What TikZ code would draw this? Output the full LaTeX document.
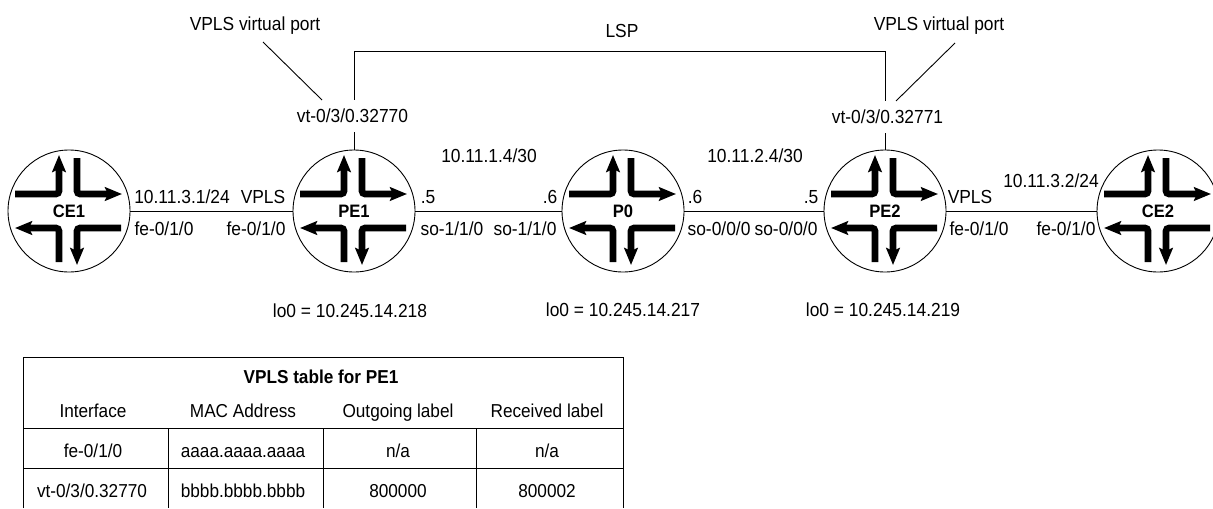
\documentclass[tikz,border=0pt]{standalone}
\usepackage{fontspec}
\setmainfont[FakeStretch=0.92]{Liberation Sans}
\usetikzlibrary{arrows.meta}
\tikzset{
	router/.style={circle, draw, line width=0.45pt, minimum size=61pt, inner sep=0pt, font=\fontsize{9}{10}\selectfont\bfseries},
	flow/.style={line width=3.3pt, rounded corners=1.5pt, -{Stealth[length=8.5pt, width=6.8pt, inset=1.5pt]}},
	wire/.style={line width=0.45pt},
	txt/.style={font=\fontsize{9.45}{10}\selectfont, inner sep=0pt, text height=6.8pt, text depth=0pt},
	port/.style={txt, minimum height=16pt},
	cell/.style={font=\fontsize{9.35}{10}\selectfont, inner sep=0pt, text height=6.8pt, text depth=0pt},
	headcell/.style={cell, font=\fontsize{9.35}{10}\selectfont\bfseries},
}
\newcommand{\routerarrows}[1]{
	\begin{scope}[shift={(#1.center)}]
		\draw[flow] (-54, -17) -- (-10, -17) -- (-10, -56);
		\draw[flow] (8, -53) -- (8, -17) -- (53, -17);
		\draw[flow] (52, 17) -- (8, 17) -- (8, 54);
		\draw[flow] (-10, 51) -- (-10, 17) -- (-54, 17);
	\end{scope}
}
\begin{document}
\begin{tikzpicture}[x=0.5pt, y=-0.5pt]
	\useasboundingbox (0, 0) rectangle (1213, 508);
	% Routers
	\node[router] (ce1) at (69, 211) {CE1};
	\node[router] (pe1) at (354, 211) {PE1};
	\node[router] (p0) at (623, 211) {P0};
	\node[router] (pe2) at (885, 211) {PE2};
	\node[router] (ce2) at (1158, 211) {CE2};
	\routerarrows{ce1}
	\routerarrows{pe1}
	\routerarrows{p0}
	\routerarrows{pe2}
	\routerarrows{ce2}
	% Links
	\draw[wire] (ce1) -- (pe1);
	\draw[wire] (pe1) -- (p0);
	\draw[wire] (p0) -- (pe2);
	\draw[wire] (pe2) -- (ce2);
	% LSP
	\node[port] (port1) at (352.5, 116) {vt-0/3/0.32770};
	\node[port] (port2) at (887.5, 117) {vt-0/3/0.32771};
	\coordinate (lsp1) at (354, 51);
	\coordinate (lsp2) at (885, 51);
	\draw[wire] (port1.north -| lsp1) -- (lsp1) -- (lsp2) -- (port2.north -| lsp2);
	\draw[wire] (port1.south -| lsp1) -- (pe1);
	\draw[wire] (port2.south -| lsp2) -- (pe2);
	\node[txt] (lsp) at (622, 31) {LSP};
	% Virtual ports
	\node[txt] (vport1) at (255, 24) {VPLS virtual port};
	\node[txt] (vport2) at (939, 24) {VPLS virtual port};
	\coordinate (vport1a) at (263, 42);
	\coordinate (vport1b) at (322, 100);
	\coordinate (vport2a) at (955, 43);
	\coordinate (vport2b) at (896, 101);
	\draw[wire] (vport1a) -- (vport1b);
	\draw[wire] (vport2a) -- (vport2b);
	% Interface labels
	\node[txt] (a1) at (182, 197) {10.11.3.1/24};
	\node[txt] (a2) at (263, 197) {VPLS};
	\node[txt] (a3) at (164, 229) {fe-0/1/0};
	\node[txt] (a4) at (256, 229) {fe-0/1/0};
	\node[txt] (a5) at (428, 197) {.5};
	\node[txt] (a6) at (489, 156) {10.11.1.4/30};
	\node[txt] (a7) at (550, 197) {.6};
	\node[txt] (a8) at (452, 229) {so-1/1/0};
	\node[txt] (a9) at (525, 229) {so-1/1/0};
	\node[txt] (a10) at (695, 197) {.6};
	\node[txt] (a11) at (755, 156) {10.11.2.4/30};
	\node[txt] (a12) at (811, 197) {.5};
	\node[txt] (a13) at (719, 229) {so-0/0/0};
	\node[txt] (a14) at (786, 229) {so-0/0/0};
	\node[txt] (a15) at (970, 197) {VPLS};
	\node[txt] (a16) at (1051, 181) {10.11.3.2/24};
	\node[txt] (a17) at (979, 229) {fe-0/1/0};
	\node[txt] (a18) at (1066, 229) {fe-0/1/0};
	\node[txt] (lo1) at (350, 311) {lo0 = 10.245.14.218};
	\node[txt] (lo2) at (623, 310) {lo0 = 10.245.14.217};
	\node[txt] (lo3) at (883, 310) {lo0 = 10.245.14.219};
	% Table
	\draw[wire] (23, 508) -- (23, 357) -- (623, 357) -- (623, 508);
	\draw[wire] (23, 428) -- (623, 428);
	\draw[wire] (23, 468) -- (623, 468);
	\foreach \xc in {168, 323, 476}
		\draw[wire] (\xc, 428) -- (\xc, 508);
	\node[headcell] (title) at (321, 377) {VPLS table for PE1};
	\node[cell] (h1) at (93, 411) {Interface};
	\node[cell] (h2) at (243, 411) {MAC Address};
	\node[cell] (h3) at (398, 411) {Outgoing label};
	\node[cell] (h4) at (547, 411) {Received label};
	\node[cell] (r1) at (93, 451) {fe-0/1/0};
	\node[cell] (r2) at (243, 451) {aaaa.aaaa.aaaa};
	\node[cell] (r3) at (398, 451) {n/a};
	\node[cell] (r4) at (547, 451) {n/a};
	\node[cell] (s1) at (92, 491) {vt-0/3/0.32770};
	\node[cell] (s2) at (243, 491) {bbbb.bbbb.bbbb};
	\node[cell] (s3) at (398, 491) {800000};
	\node[cell] (s4) at (547, 491) {800002};
\end{tikzpicture}
\end{document}
